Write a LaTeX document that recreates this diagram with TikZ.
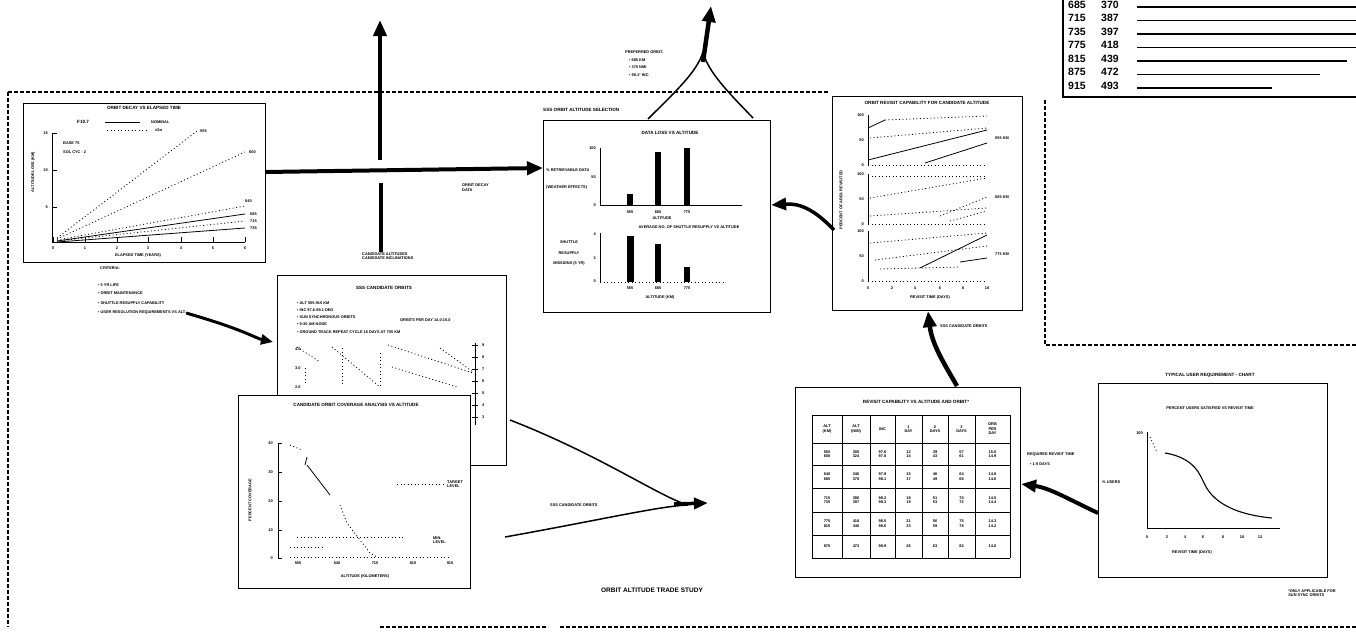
\documentclass[tikz,border=0pt]{standalone}
\usepackage{fontspec}
\setmainfont{Liberation Sans}
\usetikzlibrary{arrows.meta,positioning}

\tikzset{
  panel/.style={draw, line width=1.1pt, fill=white, inner sep=0pt, anchor=north west},
  frame/.style={line width=1.3pt, dash pattern=on 4pt off 2pt},
  fatarrow/.style={line width=4pt, -{Triangle[length=16pt,width=13pt]}},
  txt/.style={font=\fontsize{4.6}{5.6}\selectfont\bfseries, inner sep=0pt},
  tinytxt/.style={font=\fontsize{3.9}{4.6}\selectfont\bfseries, inner sep=0pt},
  bigtxt/.style={font=\fontsize{6.5}{7.8}\selectfont\bfseries, inner sep=0pt},
  alttxt/.style={font=\fontsize{10.5}{12}\selectfont\bfseries, inner sep=0pt},
  axis/.style={line width=1pt},
  plotline/.style={line width=0.8pt},
  dotline/.style={line width=0.8pt, dash pattern=on 1pt off 2.5pt},
}

\begin{document}
\begin{tikzpicture}[x=1pt, y=-1pt]
\useasboundingbox (0,0) rectangle (1356,637);

% dashed study frame
\draw[frame] (8,92) -- (828,92);
\draw[frame] (8,92) -- (8,627);
\draw[frame] (380,627) -- (548,627);
\draw[frame] (560,627) -- (1356,627);
\draw[frame] (1045,100) -- (1045,345) -- (1356,345);

% altitude table (top right)
\draw[line width=1.2pt] (1063,0) |- (1356,97);
\foreach \y/\km/\nm/\e in {4.5/685/370/1356, 18/715/387/1356, 31.5/735/397/1356, 45/775/418/1356, 58.5/815/439/1347, 72/875/472/1320, 85.5/915/493/1272}{
  \node[alttxt, anchor=west] (km\km) at (1068,\y) {\km};
  \node[alttxt, anchor=west] (nm\km) at (1101,\y) {\nm};
  \draw[line width=1.6pt] (1137,\y+2.5) -- (\e,\y+2.5);
}

% orbit decay panel
\node[panel, minimum width=242pt, minimum height=159pt] (decay) at (23,103) {};
\node[txt] (decaytitle) at (144,108) {ORBIT DECAY VS ELAPSED TIME};
\node[txt, anchor=west] (leg1) at (77,122) {F10.7};
\draw[line width=1pt] (105,122) -- (140,122);
\node[tinytxt, anchor=west] (leg1b) at (151,122) {NOMINAL};
\draw[dotline] (107,130) -- (147,130);
\node[tinytxt, anchor=west] (leg2b) at (155,130) {±2σ};
\draw[axis] (52,133) -- (52,242) -- (245,242);
\foreach \y/\t in {133/15, 170/10, 207/5}{
  \draw[axis] (52,\y) -- (57,\y);
  \node[tinytxt, anchor=east] (dy\t) at (48,\y) {\t};
}
\foreach \x/\t in {53/0, 85/1, 117/2, 148/3, 181/4, 213/5, 245/6}{
  \draw[axis] (\x,242) -- (\x,237);
  \node[tinytxt] (dx\t) at (\x,248) {\t};
}
\node[tinytxt] (decayx) at (138,255) {ELAPSED TIME (YEARS)};
\node[tinytxt, rotate=90] (decayy) at (33,172) {ALTITUDE LOSS (KM)};
\node[tinytxt, anchor=west] (base) at (63,143) {BASE 75};
\node[tinytxt, anchor=west] (solcyc) at (63,152) {SOL CYC - 2};
\draw[dotline] (57,238) -- (197,131);
\node[tinytxt, anchor=west] (a555) at (200,131) {555};
\draw[dotline] (57,239) -- (245,152);
\node[tinytxt, anchor=west] (a600) at (249,152) {600};
\draw[dotline] (57,240) -- (245,206);
\node[tinytxt, anchor=west] (a640) at (245,201) {640};
\draw[plotline] (57,241) -- (245,214);
\node[tinytxt, anchor=west] (a685) at (250,214) {685};
\draw[dotline] (57,241) -- (245,221);
\node[tinytxt, anchor=west] (a715) at (250,221) {715};
\draw[plotline] (57,242) -- (245,228);
\node[tinytxt, anchor=west] (a735) at (250,228) {735};

% selection criteria
\node[tinytxt, anchor=west] (crit0) at (100,268) {CRITERIA:};
\node[tinytxt, anchor=west] (crit1) at (98,285) {• 5 YR LIFE};
\node[tinytxt, anchor=west] (crit2) at (98,293) {• ORBIT MAINTENANCE};
\node[tinytxt, anchor=west] (crit3) at (98,303) {• SHUTTLE RESUPPLY CAPABILITY};
\node[tinytxt, anchor=west] (crit4) at (98,313) {• USER RESOLUTION REQUIREMENTS VS ALT.};

% SSS candidate orbits panel (back)
\node[panel, minimum width=229pt, minimum height=190pt] (cand) at (277,275) {};
\node[txt] (candtitle) at (384,288) {SSS CANDIDATE ORBITS};
\node[tinytxt, anchor=west] (c1) at (297,303) {• ALT 555-915 KM};
\node[tinytxt, anchor=west] (c2) at (297,310) {• INC 97.6-99.1 DEG};
\node[tinytxt, anchor=west] (c3) at (297,317) {• SUN SYNCHRONOUS ORBITS};
\node[tinytxt, anchor=west] (c4) at (297,324) {• 9:30 AM NODE};
\node[tinytxt, anchor=west] (c5) at (400,320) {ORBITS PER DAY 14.0-15.0};
\node[tinytxt, anchor=west] (c6) at (297,332) {• GROUND TRACK REPEAT CYCLE 16 DAYS AT 705 KM};
\draw[dotline] (297,347) -- (320,362);
\draw[dotline] (332,347) -- (380,387);
\draw[dotline] (388,345) -- (473,373);
\draw[dotline] (392,367) -- (457,387);
\draw[dotline] (440,348) -- (473,372);
\draw[dotline] (342,348) -- (342,385);
\draw[dotline] (380,353) -- (380,385);
\draw[dotline] (305,368) -- (305,385);
\node[tinytxt, anchor=west] (cl1) at (295,349) {4.0};
\node[tinytxt, anchor=west] (cl2) at (295,368) {3.0};
\node[tinytxt, anchor=west] (cl3) at (295,387) {2.0};
\draw[axis] (475,343) -- (475,425);
\foreach \y/\t in {345/9, 357/8, 369/7, 381/6, 393/5, 405/4, 417/3}{
  \draw[axis] (472,\y) -- (478,\y);
  \node[tinytxt, anchor=west] (ct\t) at (482,\y) {\t};
}

% candidate orbit performance panel (front)
\node[panel, minimum width=232pt, minimum height=193pt] (perf) at (238,395) {};
\node[txt] (perftitle) at (356,405) {CANDIDATE ORBIT COVERAGE ANALYSIS VS ALTITUDE};
\draw[axis] (278,443) -- (278,558);
\foreach \y/\t in {443/40, 472/30, 501/20, 530/10, 558/0}{
  \draw[axis] (278,\y) -- (282,\y);
  \node[tinytxt, anchor=east] (py\t) at (273,\y) {\t};
}
\draw[dotline] (290,557) -- (450,557);
\foreach \x/\t in {298/555, 337/640, 375/715, 413/815, 450/915}{
  \node[tinytxt] (px\t) at (\x,563) {\t};
}
\node[tinytxt] (perfx) at (365,576) {ALTITUDE (KILOMETERS)};
\node[tinytxt, rotate=90] (perfy) at (250,500) {PERCENT COVERAGE};
\draw[dotline] (290,445) -- (302,450);
\draw[plotline] (307,457) -- (305,465);
\draw[plotline] (307,465) -- (330,495);
\draw[dotline] (340,505) -- (347,523) -- (360,540) -- (370,553) -- (377,557);
\draw[dotline] (397,484) -- (443,484);
\node[tinytxt, anchor=west, align=left] (target1) at (447,484) {TARGET\\LEVEL};
\draw[dotline] (297,537) -- (403,537);
\draw[dotline] (290,547) -- (323,547);
\node[tinytxt, anchor=west, align=left] (target2) at (433,540) {MIN.\\LEVEL};

% orbit altitude selection panel (centre)
\node[txt, anchor=west] (seltitle) at (543,110) {SSS ORBIT ALTITUDE SELECTION};
\node[panel, minimum width=227pt, minimum height=192pt] (sel) at (543,120) {};
\node[txt] (losstitle) at (670,133) {DATA LOSS VS ALTITUDE};
\draw[axis] (600,148) -- (600,205) -- (742,205);
\foreach \y/\t in {148/100, 177/50, 205/0}{
  \node[tinytxt, anchor=east] (sy\t) at (596,\y) {\t};
}
\fill (627,194) rectangle (633,205);
\fill (655,152) rectangle (661,205);
\fill (684,148) rectangle (690,205);
\foreach \x/\t in {630/555, 658/685, 687/775}{
  \node[tinytxt] (sx\t) at (\x,212) {\t};
}
\node[tinytxt, anchor=west] (retr1) at (546,170) {\% RETRIEVABLE DATA};
\node[tinytxt, anchor=west] (retr2) at (546,187) {(WEATHER EFFECTS)};
\node[tinytxt] (selalt) at (662,218) {ALTITUDE};
\node[tinytxt] (resuptitle) at (689,227) {AVERAGE NO. OF SHUTTLE RESUPPLY VS ALTITUDE};
\draw[axis] (600,233) -- (600,282);
\draw[dotline] (600,282) -- (723,282);
\foreach \y/\t in {234/4, 258/2, 281/0}{
  \node[tinytxt, anchor=east] (ry\t) at (596,\y) {\t};
}
\fill (627,236) rectangle (634,282);
\fill (655,244) rectangle (661,282);
\fill (684,267) rectangle (690,282);
\foreach \x/\t in {630/555, 658/685, 687/775}{
  \node[tinytxt] (rx\t) at (\x,288) {\t};
}
\node[tinytxt] (shut1) at (569,242) {SHUTTLE};
\node[tinytxt] (shut2) at (569,253) {RESUPPLY};
\node[tinytxt] (shut3) at (569,263) {MISSIONS (5 YR)};
\node[tinytxt] (selx) at (660,297) {ALTITUDE (KM)};

% revisit capability panel (right)
\node[panel, minimum width=190pt, minimum height=214pt] (revcap) at (832,96) {};
\node[txt] (revcaptitle) at (927,103) {ORBIT REVISIT CAPABILITY FOR CANDIDATE ALTITUDE};
\node[tinytxt, rotate=90] (revcapy) at (841,200) {PERCENT OF AREA REVISITED};
\foreach \t/\n in {115/555 KM, 174/685 KM, 231/775 KM}{
  \draw[axis] (868,\t) -- (868,\t+50);
  \draw[dotline] (868,\t+50) -- (987,\t+50);
  \node[tinytxt, anchor=east] (rt\t) at (864,\t) {100};
  \node[tinytxt, anchor=east] (rm\t) at (864,\t+25) {50};
  \node[tinytxt, anchor=east] (rb\t) at (864,\t+50) {0};
  \node[tinytxt, anchor=west] (rn\t) at (995,\t+23) {\n};
}
\draw[plotline] (868,128) -- (885,120);
\draw[dotline] (885,120) -- (987,116);
\draw[dotline] (870,138) -- (987,128);
\draw[plotline] (868,160) -- (987,130);
\draw[plotline] (925,163) -- (987,143);
\draw[dotline] (868,176) -- (987,176);
\draw[dotline] (870,198) -- (987,178);
\draw[dotline] (870,216) -- (987,208);
\draw[dotline] (940,216) -- (987,197);
\draw[dotline] (950,221) -- (987,211);
\draw[dotline] (870,243) -- (987,233);
\draw[dotline] (875,260) -- (987,246);
\draw[plotline] (920,268) -- (987,235);
\draw[plotline] (960,262) -- (987,258);
\draw[dotline] (880,269) -- (960,267);
\foreach \x/\t in {868/0, 892/2, 915/4, 940/6, 963/8, 987/10}{
  \node[tinytxt] (rcx\t) at (\x,288) {\t};
}
\node[tinytxt] (revcapx) at (930,297) {REVISIT TIME (DAYS)};

% revisit capability table
\node[panel, minimum width=225pt, minimum height=190pt] (revtab) at (795,387) {};
\node[txt] (revtabtitle) at (916,402) {REVISIT CAPABILITY VS ALTITUDE AND ORBIT*};
\foreach \x in {812,842,870,895,922,948,975,1010}
  \draw[line width=1pt] (\x,415) -- (\x,558);
\foreach \y in {415,443,465,488,512,535,558}
  \draw[line width=1pt] (812,\y) -- (1010,\y);
\foreach \x/\t in {827/{ALT\\(KM)}, 856/{ALT\\(NMI)}, 882.5/{INC}, 908.5/{1\\DAY}, 935/{2\\DAYS}, 961.5/{3\\DAYS}, 992.5/{ORB\\PER\\DAY}}{
  \node[tinytxt, align=center] (h\x) at (\x,429) {\t};
}
\foreach \y/\ka/\kb/\kc/\kd/\ke/\kf/\kg in {
  454/{555\\600}/{300\\324}/{97.6\\97.8}/{12\\14}/{39\\43}/{57\\61}/{15.0\\14.9},
  476.5/{640\\685}/{346\\370}/{97.9\\98.1}/{15\\17}/{46\\49}/{64\\68}/{14.8\\14.6},
  500/{715\\735}/{386\\397}/{98.2\\98.3}/{18\\19}/{51\\53}/{70\\72}/{14.5\\14.4},
  523.5/{775\\815}/{418\\440}/{98.5\\98.6}/{21\\23}/{56\\59}/{75\\78}/{14.3\\14.2},
  546.5/{875}/{472}/{98.9}/{26}/{63}/{82}/{14.0}}{
  \node[tinytxt, align=center] (ka\y) at (827,\y) {\ka};
  \node[tinytxt, align=center] (kb\y) at (856,\y) {\kb};
  \node[tinytxt, align=center] (kc\y) at (882.5,\y) {\kc};
  \node[tinytxt, align=center] (kd\y) at (908.5,\y) {\kd};
  \node[tinytxt, align=center] (ke\y) at (935,\y) {\ke};
  \node[tinytxt, align=center] (kf\y) at (961.5,\y) {\kf};
  \node[tinytxt, align=center] (kg\y) at (992.5,\y) {\kg};
}

% user requirement panel
\node[txt] (usertitle) at (1210,375) {TYPICAL USER REQUIREMENT - CHART};
\node[panel, minimum width=229pt, minimum height=194pt] (userreq) at (1098,383) {};
\node[tinytxt] (userinner) at (1210,408) {PERCENT USERS SATISFIED VS REVISIT TIME};
\draw[axis] (1147,432) -- (1147,528) -- (1280,528);
\node[tinytxt, anchor=east] (u100) at (1143,433) {100};
\node[tinytxt, anchor=west] (uusers) at (1102,482) {\% USERS};
\draw[dotline] (1150,437) -- (1157,452);
\draw[line width=1.1pt] (1165,453) .. controls (1195,458) and (1200,475) .. (1205,485) .. controls (1215,505) and (1240,515) .. (1272,518);
\foreach \x/\t in {1147/0, 1167/2, 1185/4, 1203/6, 1223/8, 1242/10, 1260/12}{
  \node[tinytxt] (ux\t) at (\x,537) {\t};
}
\node[tinytxt] (userx) at (1192,552) {REVISIT TIME (DAYS)};

% connectors
\coordinate (decayout) at (265,172);
\coordinate (altup) at (380,20);
\coordinate (altgaplo) at (381,183);
\coordinate (altgaphi) at (380,160);
\node[tinytxt, anchor=west, align=left] (altlbl) at (362,256) {CANDIDATE ALTITUDES\\CANDIDATE INCLINATIONS};
\draw[line width=4pt] (altlbl.north -| altgaplo) -- (altgaplo);
\draw[fatarrow] (altgaphi) -- (altup);
\draw[fatarrow] (decayout) -- (sel.west |- 0,168);
\node[tinytxt, anchor=north west, align=left] (decaylbl) at (462,184) {ORBIT DECAY\\DATA};

\coordinate (selL) at (648,119);
\coordinate (selR) at (753,118);
\coordinate (prefjoin) at (703,52);
\coordinate (preftip) at (711,6);
\draw[line width=1.5pt] (selL) .. controls (675,92) and (697,72) .. (prefjoin);
\draw[line width=1.5pt] (selR) .. controls (728,92) and (708,72) .. (prefjoin);
\draw[line width=4.5pt, -{Triangle[length=16pt,width=13pt]}] (703,62) -- (preftip);
\node[tinytxt, anchor=west] (pref0) at (625,52) {PREFERRED ORBIT,};
\node[tinytxt, anchor=west] (pref1) at (629,60) {• 685 KM};
\node[tinytxt, anchor=west] (pref2) at (629,67) {• 370 NMI};
\node[tinytxt, anchor=west] (pref3) at (629,75) {• 98.1° INC};

\coordinate (revcapin) at (834,230);
\draw[line width=3.5pt, -{Triangle[length=15pt,width=12pt]}] (revcapin) .. controls (815,210) and (800,203) .. (sel.east |- 0,205);

\coordinate (revtabout) at (957,386);
\draw[line width=4.5pt, -{Triangle[length=16pt,width=13pt]}] (revtabout) .. controls (945,365) and (932,345) .. (revcap.south -| 928,0);
\node[tinytxt, anchor=west] (candlbl) at (940,326) {SSS CANDIDATE ORBITS};

\coordinate (userout) at (1098,513);
\draw[line width=4pt, -{Triangle[length=15pt,width=12pt]}] (userout) .. controls (1070,500) and (1050,488) .. (revtab.east |- 0,484);
\node[tinytxt, anchor=west] (req1) at (1027,455) {REQUIRED REVISIT TIME};
\node[tinytxt, anchor=west] (req2) at (1030,464) {• 1-5 DAYS};

\coordinate (candin) at (273,342);
\draw[line width=3pt, -{Triangle[length=12pt,width=10pt]}] (crit4.east) .. controls (245,330) and (255,338) .. (candin);

\coordinate (candout) at (510,420);
\coordinate (perfout) at (505,537);
\coordinate (meet) at (688,505);
\coordinate (meettip) at (708,503);
\draw[line width=1.5pt] (candout) .. controls (600,455) and (660,497) .. (meet);
\draw[line width=1.5pt] (perfout) .. controls (600,520) and (660,506) .. (meet);
\draw[line width=3.5pt, -{Triangle[length=14pt,width=11pt]}] (674,504) -- (meettip);
\node[tinytxt, anchor=west] (forklbl) at (550,505) {SSS CANDIDATE ORBITS};

% titles
\node[bigtxt] (study) at (652,590) {ORBIT ALTITUDE TRADE STUDY};
\node[tinytxt, align=left] (note) at (1312,593) {*ONLY APPLICABLE FOR\\SUN SYNC ORBITS};
\end{tikzpicture}
\end{document}
